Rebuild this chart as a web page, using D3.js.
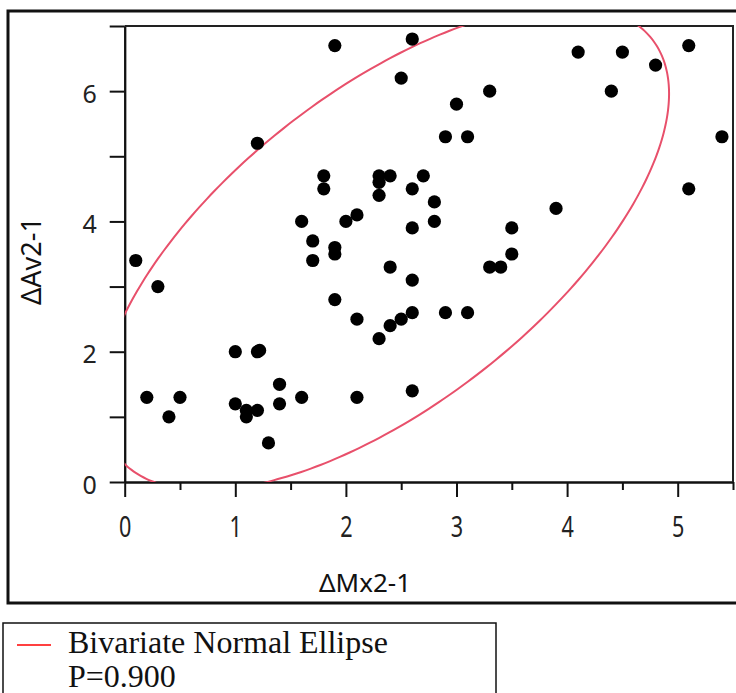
<!DOCTYPE html>
<html>
<head>
<meta charset="utf-8">
<script src="https://cdn.jsdelivr.net/npm/d3@7"></script>
<style>
  body { margin: 0; background: #fff; }
  svg { display: block; }
</style>
</head>
<body>
<div id="chart"></div>
<script>
//#region data
let mx = [1.9, 2.6, 2.5, 1.2, 2.9, 3.0, 3.1, 3.3, 4.1, 4.5, 4.4, 4.8, 5.1, 5.4, 5.1, 3.9, 3.5, 3.5, 3.3, 3.4,
          3.1, 2.9, 2.6, 2.6, 2.5, 2.4, 2.3, 2.1, 2.1, 1.9, 2.4, 2.6, 2.6, 2.6, 2.8, 2.8, 2.7, 2.4, 2.3, 2.3,
          2.3, 1.8, 1.8, 1.6, 2.0, 2.1, 1.7, 1.9, 1.9, 1.7, 0.1, 0.3, 1.0, 1.2, 1.22, 1.4, 1.4, 1.6, 1.0, 1.1,
          1.1, 1.2, 1.3, 0.2, 0.5, 0.4];
let av = [6.7, 6.8, 6.2, 5.2, 5.3, 5.8, 5.3, 6.0, 6.6, 6.6, 6.0, 6.4, 6.7, 5.3, 4.5, 4.2, 3.9, 3.5, 3.3, 3.3,
          2.6, 2.6, 2.6, 1.4, 2.5, 2.4, 2.2, 2.5, 1.3, 2.8, 3.3, 3.1, 3.9, 4.5, 4.0, 4.3, 4.7, 4.7, 4.7, 4.6,
          4.4, 4.7, 4.5, 4.0, 4.0, 4.1, 3.7, 3.6, 3.5, 3.4, 3.4, 3.0, 2.0, 2.0, 2.02, 1.5, 1.2, 1.3, 1.2, 1.1,
          1.0, 1.1, 0.6, 1.3, 1.3, 1.0];
let xMajor = [0, 1, 2, 3, 4, 5];
let xMinor = [0.5, 1.5, 2.5, 3.5, 4.5, 5.5];
let yMajor = [0, 2, 4, 6];
let yMinor = [1, 3, 5, 7];
let xTitle = 'ΔMx2-1';
let yTitle = 'ΔAv2-1';
let legendText = ['Bivariate Normal Ellipse', 'P=0.900'];
let prob = 0.9;
//#endregion

//#region variables
let width = 736,
    height = 693,
    plotLeft = 124.7,
    plotRight = 733,
    plotTop = 26,
    plotBottom = 482;
//#endregion

let svg = d3.select('#chart')
    .append('svg')
    .attr('width', width)
    .attr('height', height);

svg.append('rect')
    .attr('width', width)
    .attr('height', height)
    .attr('fill', '#fff');

// outer frame
svg.append('rect')
    .attr('x', 8)
    .attr('y', 11)
    .attr('width', 745)
    .attr('height', 592)
    .attr('fill', 'none')
    .attr('stroke', '#111')
    .attr('stroke-width', 3);

//#region scales + axes
let xScale = d3.scaleLinear().domain([0, 5.5]).range([plotLeft, plotRight]);
let yScale = d3.scaleLinear().domain([0, 7]).range([plotBottom, plotTop]);

let axisFont = '"Noto Sans", sans-serif';

let yAxis = svg.append('g')
    .attr('transform', `translate(${plotLeft}, 0)`)
    .call(d3.axisLeft(yScale).tickValues(yMajor).tickFormat(d3.format('d'))
        .tickSize(15).tickPadding(13).tickSizeOuter(0));
svg.append('g')
    .attr('transform', `translate(${plotLeft}, 0)`)
    .call(d3.axisLeft(yScale).tickValues(yMinor).tickSize(15).tickFormat('').tickSizeOuter(0));

let xAxis = svg.append('g')
    .attr('transform', `translate(0, ${plotBottom})`)
    .call(d3.axisBottom(xScale).tickValues(xMajor).tickFormat(d3.format('d'))
        .tickSize(15).tickSizeOuter(0));
svg.append('g')
    .attr('transform', `translate(0, ${plotBottom})`)
    .call(d3.axisBottom(xScale).tickValues(xMinor).tickSize(8).tickFormat('').tickSizeOuter(0));

svg.selectAll('.domain').attr('stroke', '#111').attr('stroke-width', 2);
svg.selectAll('.tick line').attr('stroke', '#111').attr('stroke-width', 2);

yAxis.selectAll('.tick text')
    .attr('font-family', axisFont)
    .attr('font-size', 25)
    .attr('fill', '#222')
    .attr('dy', '0.45em');

xAxis.selectAll('.tick text')
    .attr('font-family', axisFont)
    .attr('font-size', 24)
    .attr('fill', '#222')
    .attr('y', 0)
    .attr('dy', 0)
    .attr('transform', 'translate(0, 55) scale(0.9, 1.2)');

// top and right frame of the plot
svg.append('path')
    .attr('d', `M${plotLeft},${plotTop}H${plotRight}V${plotBottom}`)
    .attr('fill', 'none')
    .attr('stroke', '#222')
    .attr('stroke-width', 2);
//#endregion

//#region titles
svg.append('text')
    .attr('x', 365)
    .attr('y', 592)
    .attr('text-anchor', 'middle')
    .attr('font-family', axisFont)
    .attr('font-size', 26)
    .attr('fill', '#111')
    .text(xTitle);

svg.append('text')
    .attr('transform', 'translate(41, 261) rotate(-90)')
    .attr('text-anchor', 'middle')
    .attr('font-family', axisFont)
    .attr('font-size', 27)
    .attr('fill', '#111')
    .text(yTitle);
//#endregion

//#region ellipse
let n = mx.length;
let meanX = d3.mean(mx), meanY = d3.mean(av);
let sxx = d3.sum(mx, d => (d - meanX) ** 2) / (n - 1);
let syy = d3.sum(av, d => (d - meanY) ** 2) / (n - 1);
let sxy = d3.sum(mx, (d, i) => (d - meanX) * (av[i] - meanY)) / (n - 1);

let tr = sxx + syy, det = sxx * syy - sxy * sxy;
let l1 = tr / 2 + Math.sqrt(tr * tr / 4 - det);
let l2 = tr / 2 - Math.sqrt(tr * tr / 4 - det);
let theta = Math.atan2(l1 - sxx, sxy);
let c = -2 * Math.log(1 - prob);
let a = Math.sqrt(c * l1), b = Math.sqrt(c * l2);

let angles = d3.range(0, 361, 2).map(d => d * Math.PI / 180);
let ellipse = angles.map(t => {
    let ex = a * Math.cos(t), ey = b * Math.sin(t);
    return [meanX + ex * Math.cos(theta) - ey * Math.sin(theta),
            meanY + ex * Math.sin(theta) + ey * Math.cos(theta)];
});

svg.append('clipPath')
    .attr('id', 'plotClip')
    .append('rect')
    .attr('x', plotLeft)
    .attr('y', plotTop)
    .attr('width', plotRight - plotLeft)
    .attr('height', plotBottom - plotTop);

let plot = svg.append('g').attr('clip-path', 'url(#plotClip)');

plot.append('path')
    .datum(ellipse)
    .attr('d', d3.line().x(d => xScale(d[0])).y(d => yScale(d[1])).curve(d3.curveCardinalClosed))
    .attr('fill', 'none')
    .attr('stroke', '#e8506b')
    .attr('stroke-width', 2);
//#endregion

//#region points
plot.selectAll('circle')
    .data(mx)
    .enter()
    .append('circle')
    .attr('cx', d => xScale(d))
    .attr('cy', (d, i) => yScale(av[i]))
    .attr('r', 6.6)
    .attr('fill', '#000');
//#endregion

//#region legend
svg.append('rect')
    .attr('x', 3)
    .attr('y', 623)
    .attr('width', 493)
    .attr('height', 120)
    .attr('fill', 'none')
    .attr('stroke', '#111')
    .attr('stroke-width', 1.5);

svg.append('line')
    .attr('x1', 17)
    .attr('x2', 51)
    .attr('y1', 645)
    .attr('y2', 645)
    .attr('stroke', '#ff0000')
    .attr('stroke-width', 1.5);

svg.selectAll('.legendText')
    .data(legendText)
    .enter()
    .append('text')
    .attr('class', 'legendText')
    .attr('x', 68)
    .attr('y', (d, i) => 653 + i * 34)
    .attr('font-family', '"Liberation Serif", "Times New Roman", serif')
    .attr('font-size', 32)
    .attr('fill', '#111')
    .text(d => d);
//#endregion
</script>
</body>
</html>
